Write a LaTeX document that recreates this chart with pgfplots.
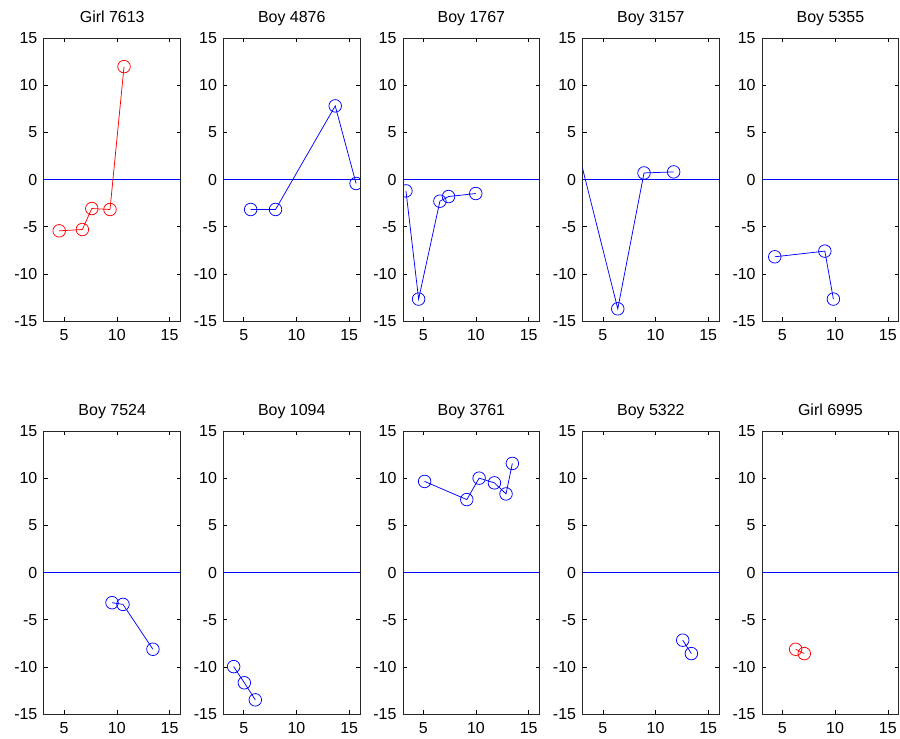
\documentclass[border=0pt]{standalone}
\usepackage{pgfplots}
\pgfplotsset{compat=1.18}
\usepgfplotslibrary{groupplots}
\usetikzlibrary{calc}
\usepackage{fontspec}
\setmainfont{Liberation Sans}
\definecolor{mblue}{RGB}{0,0,255}
\definecolor{mred}{RGB}{255,0,0}
\pgfplotsset{
  panel/.style={
    scale only axis, width=137pt, height=284pt,
    xmin=3.08, xmax=16.04, ymin=-15, ymax=15,
    xtick={5,10,15}, xticklabels={5,10,15},
    ytick={-15,-10,-5,0,5,10,15}, yticklabels={-15,-10,-5,0,5,10,15},
    tick align=inside, tick pos=both,
    major tick length=4pt,
    axis line style={line width=0.8pt, black!85},
    tick style={black, line width=0.6pt},
    ticklabel style={font=\fontsize{16}{19}\selectfont},
    xticklabel style={yshift=-5pt},
    yticklabel style={xshift=-3pt},
    title style={font=\fontsize{16}{19}\selectfont, anchor=base, yshift=9pt},
    clip marker paths=true,
  },
  zero/.style={mblue, line width=1pt, forget plot},
  boy/.style={mblue, line width=0.75pt, mark=o, mark size=6.3pt, mark options={solid, line width=0.75pt}},
  girl/.style={mred, line width=0.75pt, mark=o, mark size=6.3pt, mark options={solid, line width=0.75pt}},
}
\begin{document}
\begin{tikzpicture}
\begin{groupplot}[group style={group size=5 by 2, horizontal sep=43pt, vertical sep=110pt}, panel]
\nextgroupplot[title={Girl 7613}]
\addplot[zero] coordinates {(2,0) (17,0)};
\addplot[girl] coordinates {(4.53,-5.43) (6.73,-5.29) (7.62,-3.07) (9.35,-3.17) (10.68,11.96)};
\nextgroupplot[title={Boy 4876}]
\addplot[zero] coordinates {(2,0) (17,0)};
\addplot[boy] coordinates {(5.66,-3.17) (8.02,-3.17) (13.68,7.8) (15.66,-0.42)};
\nextgroupplot[title={Boy 1767}]
\addplot[zero] coordinates {(2,0) (17,0)};
\addplot[boy] coordinates {(3.36,-1.2) (4.56,-12.66) (6.58,-2.29) (7.4,-1.8) (9.98,-1.48)};
\nextgroupplot[title={Boy 3157}]
\addplot[zero] coordinates {(2,0) (17,0)};
\addplot[boy] coordinates {(2.4,4.2) (6.42,-13.69) (8.91,0.7) (11.72,0.81)};
\nextgroupplot[title={Boy 5355}]
\addplot[zero] coordinates {(2,0) (17,0)};
\addplot[boy] coordinates {(4.28,-8.18) (9.03,-7.58) (9.84,-12.66)};
\nextgroupplot[title={Boy 7524}]
\addplot[zero] coordinates {(2,0) (17,0)};
\addplot[boy] coordinates {(9.54,-3.19) (10.58,-3.37) (13.42,-8.12)};
\nextgroupplot[title={Boy 1094}]
\addplot[zero] coordinates {(2,0) (17,0)};
\addplot[boy] coordinates {(4.05,-9.96) (5.06,-11.67) (6.1,-13.48)};
\nextgroupplot[title={Boy 3761}]
\addplot[zero] coordinates {(2,0) (17,0)};
\addplot[boy] coordinates {(5.13,9.65) (9.13,7.73) (10.3,10.0) (11.75,9.5) (12.85,8.33) (13.45,11.56)};
\nextgroupplot[title={Boy 5322}]
\addplot[zero] coordinates {(2,0) (17,0)};
\addplot[boy] coordinates {(12.58,-7.16) (13.4,-8.58)};
\nextgroupplot[title={Girl 6995}]
\addplot[zero] coordinates {(2,0) (17,0)};
\addplot[girl] coordinates {(6.26,-8.12) (7.08,-8.58)};
\end{groupplot}
\draw[draw=none] ($(group c1r1.north west)+(-44pt,38pt)$) rectangle ($(group c5r2.south east)+(0pt,-24pt)$);
\end{tikzpicture}
\end{document}
